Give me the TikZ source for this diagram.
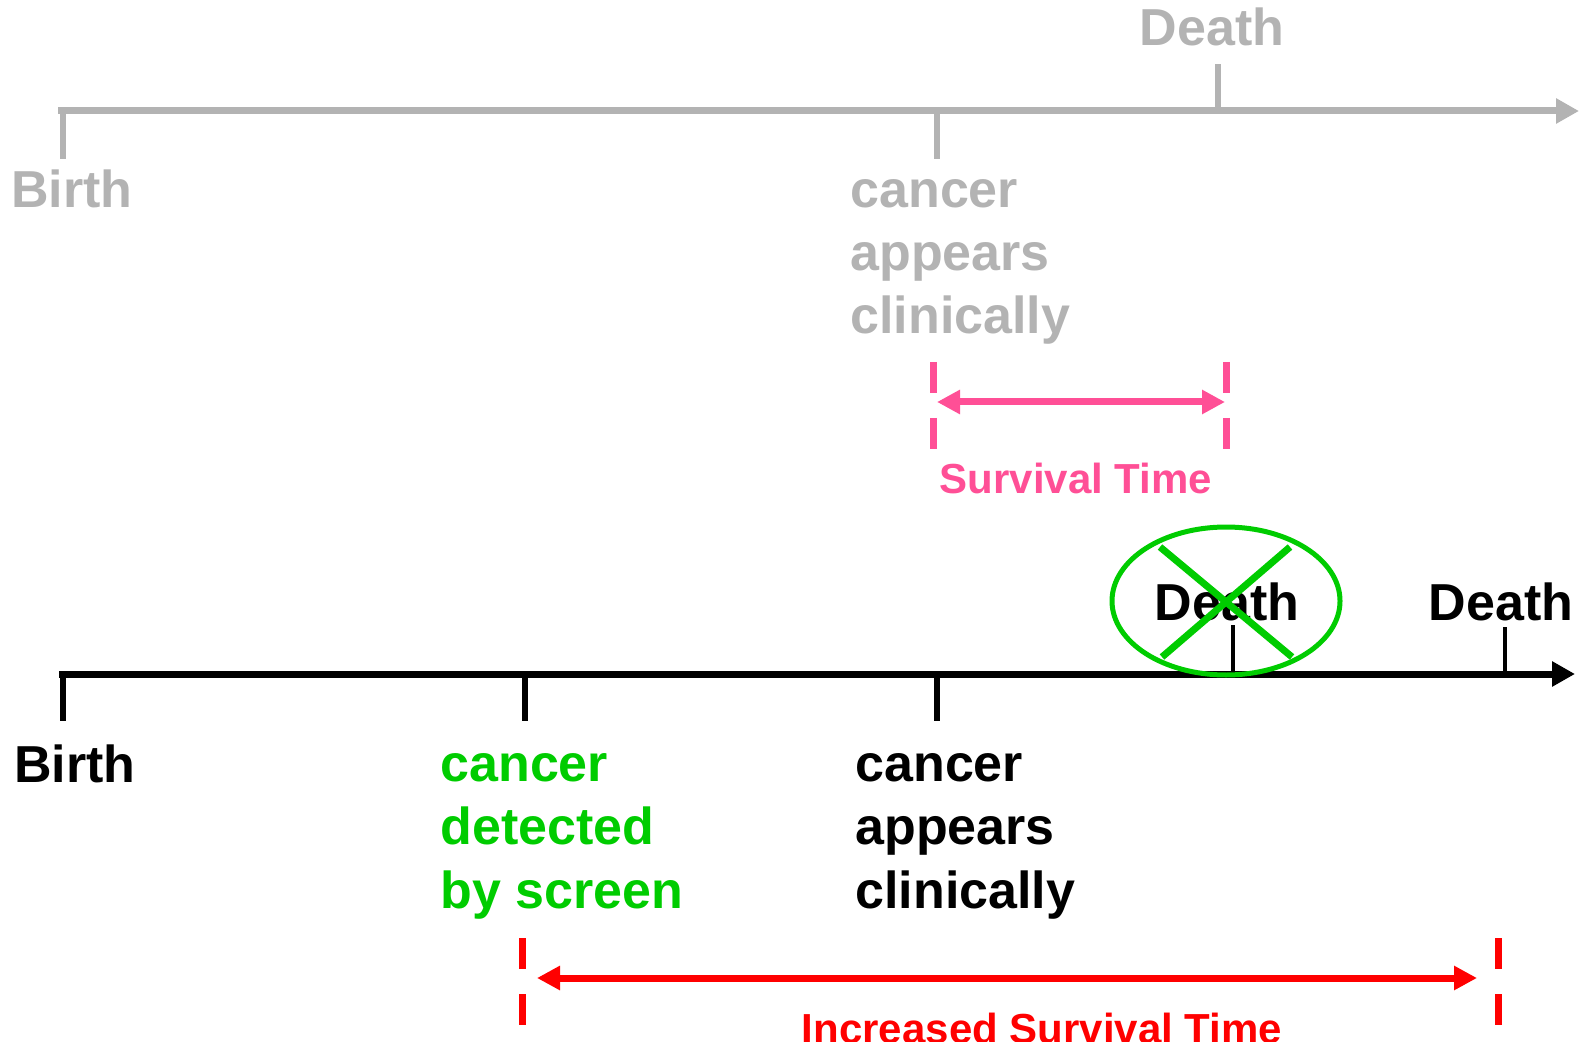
\documentclass[tikz,border=0pt]{standalone}
\usepackage{fontspec}
\setmainfont{Liberation Sans}
\usetikzlibrary{arrows.meta,shapes.geometric}
\definecolor{lgrey}{HTML}{B3B3B3}
\definecolor{spink}{HTML}{FF4F96}
\definecolor{sgreen}{HTML}{00CC00}
\definecolor{sred}{HTML}{FF0000}
\tikzset{
  lbl/.style={inner sep=0pt, font=\bfseries\fontsize{26}{31.6}\selectfont, align=left},
  smlbl/.style={inner sep=0pt, font=\bfseries\fontsize{21}{26}\selectfont},
  axis/.style={line width=3.5pt, -{Triangle[length=11.5pt,width=12pt]}},
  tick/.style={line width=3pt},
  thintick/.style={line width=2.2pt},
  span/.style={line width=3.5pt, {Triangle[length=11.5pt,width=11.5pt]}-{Triangle[length=11.5pt,width=11.5pt]}},
  bar/.style={line width=3.5pt},
}
\begin{document}
\begin{tikzpicture}[x=0.5pt,y=-0.5pt]
\clip (0,0) rectangle (1582,1042);
\useasboundingbox (0,0) rectangle (1582,1042);
% ---------- top (grey) timeline ----------
\coordinate (ta0) at (58,111);
\coordinate (ta1) at (1579,111);
\draw[axis, lgrey] (ta0) -- (ta1);
\coordinate (tb0) at (63,108); \coordinate (tb1) at (63,159);
\draw[tick, lgrey] (tb0) -- (tb1);
\coordinate (tc0) at (937,108); \coordinate (tc1) at (937,159);
\draw[tick, lgrey] (tc0) -- (tc1);
\coordinate (td0) at (1218,114); \coordinate (td1) at (1218,64);
\draw[tick, lgrey] (td0) -- (td1);
\node[lbl, lgrey, anchor=base west] (tbirth) at (11,208) {Birth};
\node[lbl, lgrey, anchor=base] (tdeath) at (1212,46) {Death};
\node[lbl, lgrey, anchor=base west] (tcancer) at (850,334) {cancer\\appears\\clinically};
% ---------- survival time (pink) ----------
\coordinate (pl1) at (933,362); \coordinate (pl2) at (933,393);
\coordinate (pl3) at (933,418); \coordinate (pl4) at (933,449);
\coordinate (pr1) at (1226,362); \coordinate (pr2) at (1226,393);
\coordinate (pr3) at (1226,418); \coordinate (pr4) at (1226,449);
\draw[bar, spink] (pl1) -- (pl2) (pl3) -- (pl4) (pr1) -- (pr2) (pr3) -- (pr4);
\coordinate (pa0) at (937,402); \coordinate (pa1) at (1225,402);
\draw[span, spink] (pa0) -- (pa1);
\node[smlbl, spink, anchor=base] (surv) at (1076,493) {Survival Time};
% ---------- bottom (black) timeline ----------
\coordinate (ba0) at (59,674);
\coordinate (ba1) at (1575,674);
\draw[axis, black] (ba0) -- (ba1);
\coordinate (bb0) at (63,671); \coordinate (bb1) at (63,721);
\draw[tick] (bb0) -- (bb1);
\coordinate (bg0) at (525,671); \coordinate (bg1) at (525,721);
\draw[tick] (bg0) -- (bg1);
\coordinate (bc0) at (937,671); \coordinate (bc1) at (937,721);
\draw[tick] (bc0) -- (bc1);
\coordinate (bx0) at (1233,676); \coordinate (bx1) at (1233,625);
\draw[thintick] (bx0) -- (bx1);
\coordinate (bd0) at (1505,676); \coordinate (bd1) at (1505,627);
\draw[thintick] (bd0) -- (bd1);
\node[lbl, anchor=base] (xdeath) at (1227,620) {Death};
\node[lbl, anchor=base] (bdeath) at (1501,620) {Death};
\node[lbl, anchor=base west] (bbirth) at (14,782) {Birth};
\node[lbl, sgreen, anchor=base west] (bscreen) at (440,908) {cancer\\detected\\by screen};
\node[lbl, anchor=base west] (bcancer) at (855,908) {cancer\\appears\\clinically};
% crossed-out death
\node[draw=sgreen, line width=2.5pt, ellipse, inner sep=0pt,
      minimum width=114pt, minimum height=74pt] (cross) at (1226,601) {};
\coordinate (x1) at (1160,547); \coordinate (x2) at (1292,657);
\coordinate (x3) at (1290,547); \coordinate (x4) at (1162,657);
\draw[line width=3.5pt, sgreen] (x1) -- (x2) (x3) -- (x4);
% ---------- increased survival time (red) ----------
\coordinate (rl1) at (522,938); \coordinate (rl2) at (522,969);
\coordinate (rl3) at (522,994); \coordinate (rl4) at (522,1025);
\coordinate (rr1) at (1498,938); \coordinate (rr2) at (1498,969);
\coordinate (rr3) at (1498,994); \coordinate (rr4) at (1498,1025);
\draw[bar, sred] (rl1) -- (rl2) (rl3) -- (rl4) (rr1) -- (rr2) (rr3) -- (rr4);
\coordinate (ra0) at (537,978); \coordinate (ra1) at (1477,978);
\draw[span, sred] (ra0) -- (ra1);
\node[smlbl, sred, anchor=base] (incr) at (1042,1043) {Increased Survival Time};
\end{tikzpicture}
\end{document}
